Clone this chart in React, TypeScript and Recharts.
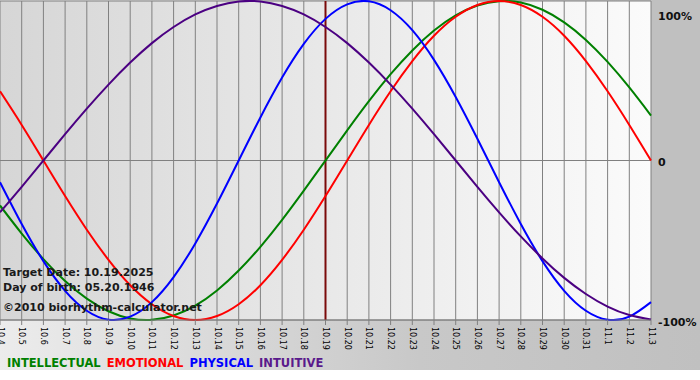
import React from 'react';
import { LineChart, Line, XAxis, YAxis, CartesianGrid, ReferenceLine } from 'recharts';

const dates = [
  '10.4', '10.5', '10.6', '10.7', '10.8', '10.9', '10.10', '10.11', '10.12', '10.13',
  '10.14', '10.15', '10.16', '10.17', '10.18', '10.19', '10.20', '10.21', '10.22', '10.23',
  '10.24', '10.25', '10.26', '10.27', '10.28', '10.29', '10.30', '10.31', '11.1', '11.2', '11.3',
];

const intellectual = [
  -28.2, -45.8, -61.8, -75.6, -86.6, -94.5, -99.0, -99.9, -97.2, -91.0,
  -81.5, -69.0, -54.1, -37.2, -18.9, 0, 18.9, 37.2, 54.1, 69.0,
  81.5, 91.0, 97.2, 99.9, 99.0, 94.5, 86.6, 75.6, 61.8, 45.8, 28.2,
];

const emotional = [
  43.4, 22.3, 0, -22.3, -43.4, -62.3, -78.2, -90.1, -97.5, -100,
  -97.5, -90.1, -78.2, -62.3, -43.4, -22.3, 0, 22.3, 43.4, 62.3,
  78.2, 90.1, 97.5, 100, 97.5, 90.1, 78.2, 62.3, 43.4, 22.3, 0,
];

const physical = [
  -13.6, -39.8, -63.1, -81.7, -94.2, -99.8, -97.9, -88.8, -73.1, -52.0,
  -27.0, 0, 27.0, 52.0, 73.1, 88.8, 97.9, 99.8, 94.2, 81.7,
  63.1, 39.8, 13.6, -13.6, -39.8, -63.1, -81.7, -94.2, -99.8, -97.9, -88.8,
];

const intuitive = [
  -32.5, -16.5, 0, 16.5, 32.5, 47.6, 61.4, 73.6, 83.7, 91.6,
  96.9, 99.7, 99.7, 96.9, 91.6, 83.7, 73.6, 61.4, 47.6, 32.5,
  16.5, 0, -16.5, -32.5, -47.6, -61.4, -73.6, -83.7, -91.6, -96.9, -99.7,
];

const yTicks = [-100, 0, 100];
const targetDate = '10.19';
const infoLines = ['Target Date: 10.19.2025', 'Day of birth: 05.20.1946', '\u00A92010 biorhythm-calculator.net'];
const seriesNames = ['INTELLECTUAL', 'EMOTIONAL', 'PHYSICAL', 'INTUITIVE'];
const seriesKeys = ['intellectual', 'emotional', 'physical', 'intuitive'];
const seriesColors = ['#008000', '#ff0000', '#0000ff', '#4b0082'];
const legendColors = ['#008000', '#ff0000', '#0000ff', '#5a1a8c'];

const data = dates.map((d, i) => ({
  date: d,
  intellectual: intellectual[i],
  emotional: emotional[i],
  physical: physical[i],
  intuitive: intuitive[i],
}));

const XTick = (props: any) => {
  const { x, y, payload } = props;
  return (
    <text
      x={x}
      y={y}
      transform={`rotate(90 ${x} ${y})`}
      textAnchor="start"
      dominantBaseline="central"
      fontFamily="'DejaVu Sans', Verdana, sans-serif"
      fontSize={8}
      fill="#000"
    >
      {payload.value}
    </text>
  );
};

const YTick = (props: any) => {
  const { x, y, payload } = props;
  const v = payload.value;
  const label = v === 0 ? '0' : `${v}%`;
  const dy = v === 100 ? 7 : 2;
  return (
    <text
      x={x}
      y={y + dy}
      textAnchor="start"
      dominantBaseline="central"
      fontFamily="'DejaVu Sans', Verdana, sans-serif"
      fontWeight="bold"
      fontSize={11}
      fill="#111"
    >
      {label}
    </text>
  );
};

export default function App() {
  return (
    <div
      style={{
        position: 'absolute',
        left: 0,
        top: 0,
        width: 700,
        height: 380,
        background: '#ffffff',
        overflow: 'hidden',
      }}
    >
      <div
        style={{
          position: 'absolute',
          left: 0,
          top: 0,
          width: 700,
          height: 370,
          background: 'linear-gradient(to right, #ececec, #c8c8c8 60%, #c0c0c0)',
        }}
      />
      <div
        style={{
          position: 'absolute',
          left: 651,
          top: 0,
          width: 49,
          height: 321,
          background: '#c0c0c0',
        }}
      />
      <div style={{ position: 'absolute', left: 0, top: 0 }}>
        <LineChart width={700} height={380} data={data} margin={{ top: 1, right: 0, left: 0, bottom: 30 }}>
          <defs>
            <linearGradient id="plotBg" x1="0" y1="0" x2="1" y2="0">
              <stop offset="0%" stopColor="#d6d6d6" />
              <stop offset="100%" stopColor="#fbfbfb" />
            </linearGradient>
          </defs>
          <CartesianGrid stroke="#808080" strokeWidth={1} fill="url(#plotBg)" fillOpacity={1} />
          <XAxis
            dataKey="date"
            interval={0}
            padding={{ left: 0, right: 0 }}
            height={30}
            tickSize={5}
            tickMargin={2}
            axisLine={{ stroke: '#808080' }}
            tickLine={{ stroke: '#808080' }}
            tick={<XTick />}
          />
          <YAxis
            orientation="right"
            domain={[-100, 100]}
            ticks={yTicks}
            width={49}
            axisLine={false}
            tickLine={false}
            tickSize={0}
            tickMargin={7}
            tick={<YTick />}
          />
          <ReferenceLine x={targetDate} stroke="#7a0a0a" strokeWidth={2} />
          {seriesKeys.map((k, i) => (
            <Line
              key={k}
              type="natural"
              dataKey={k}
              stroke={seriesColors[i]}
              strokeWidth={2}
              dot={false}
              isAnimationActive={false}
            />
          ))}
        </LineChart>
      </div>
      <svg
        width={700}
        height={380}
        style={{ position: 'absolute', left: 0, top: 0, pointerEvents: 'none' }}
      >
        <g fontFamily="'DejaVu Sans', Verdana, sans-serif" fontWeight="bold" fontSize={11} fill="#1a1a1a">
          <text x={3} y={276}>{infoLines[0]}</text>
          <text x={3} y={291}>{infoLines[1]}</text>
          <text x={3} y={311}>{infoLines[2]}</text>
        </g>
        <text
          x={7}
          y={367}
          fontFamily="'DejaVu Sans', Verdana, sans-serif"
          fontWeight="bold"
          fontSize={11.5}
        >
          {seriesNames.map((n, i) => (
            <tspan key={n} fill={legendColors[i]} dx={i === 0 ? 0 : 6}>
              {n}
            </tspan>
          ))}
        </text>
      </svg>
    </div>
  );
}
